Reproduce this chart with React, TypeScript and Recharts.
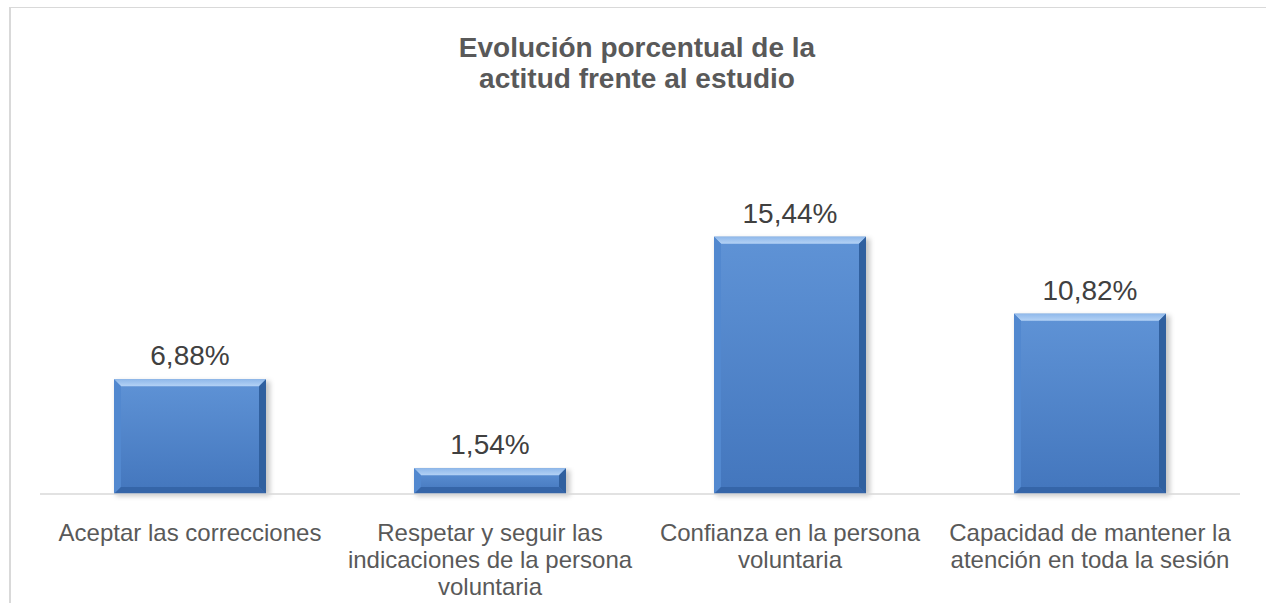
import React from 'react';
import { BarChart, Bar, XAxis, YAxis, LabelList } from 'recharts';

const categories = [
  'Aceptar las correcciones',
  'Respetar y seguir las indicaciones de la persona voluntaria',
  'Confianza en la persona voluntaria',
  'Capacidad de mantener la atención en toda la sesión',
];
const labelLines = [
  ['Aceptar las correcciones'],
  ['Respetar y seguir las', 'indicaciones de la persona', 'voluntaria'],
  ['Confianza en la persona', 'voluntaria'],
  ['Capacidad de mantener la', 'atención en toda la sesión'],
];
const values = [6.88, 1.54, 15.44, 10.82];

const data = categories.map((c, i) => ({ name: c, value: values[i], idx: i }));

const FONT = '"Liberation Sans", Arial, sans-serif';

function BevelBar(props: any) {
  const { x, y, width: w, height: h, index } = props;
  const b = Math.min(7, h / 3);
  const id = `bar${index}`;
  return (
    <g>
      <defs>
        <linearGradient id={`${id}-main`} x1="0" y1="0" x2="0" y2="1">
          <stop offset="0%" stopColor="#5f93d6" />
          <stop offset="100%" stopColor="#4376bd" />
        </linearGradient>
        <linearGradient id={`${id}-top`} x1="0" y1="0" x2="0" y2="1">
          <stop offset="0%" stopColor="#8fb8ea" />
          <stop offset="100%" stopColor="#b4d2f5" />
        </linearGradient>
        <filter id={`${id}-sh`} x="-10%" y="-10%" width="130%" height="130%">
          <feGaussianBlur stdDeviation="2.5" />
        </filter>
      </defs>
      <rect x={x + 2} y={y + 2} width={w + 2} height={h} fill="rgba(0,0,0,0.22)" filter={`url(#${id}-sh)`} />
      <rect x={x} y={y} width={w} height={h} fill={`url(#${id}-main)`} />
      <polygon points={`${x},${y} ${x + w},${y} ${x + w - b},${y + b} ${x + b},${y + b}`} fill={`url(#${id}-top)`} />
      <polygon points={`${x},${y} ${x + b},${y + b} ${x + b},${y + h - b} ${x},${y + h}`} fill="#5288cf" />
      <polygon points={`${x + w},${y} ${x + w},${y + h} ${x + w - b},${y + h - b} ${x + w - b},${y + b}`} fill="#30609f" />
      <polygon points={`${x},${y + h} ${x + b},${y + h - b} ${x + w - b},${y + h - b} ${x + w},${y + h}`} fill="#3565a8" />
    </g>
  );
}

function CategoryTick(props: any) {
  const { x, y, payload } = props;
  const lines = labelLines[payload.index] || [payload.value];
  return (
    <g>
      {lines.map((l: string, i: number) => (
        <text key={i} x={x} y={y + 39 + i * 27} textAnchor="middle" fill="#595959" fontSize={24} fontFamily={FONT}>
          {l}
        </text>
      ))}
    </g>
  );
}

function ValueLabel(props: any) {
  const { x, y, width, value } = props;
  return (
    <text x={x + width / 2} y={y - 14} textAnchor="middle" fill="#404040" fontSize={28} fontFamily={FONT}>
      {value.toFixed(2).replace('.', ',')}%
    </text>
  );
}

export default function App() {
  return (
    <div style={{ position: 'absolute', left: 0, top: 0, width: 1266, height: 603, overflow: 'hidden', background: '#fff', fontFamily: FONT }}>
      <div style={{ position: 'absolute', left: 9, top: 7, width: 1400, height: 800, borderTop: '1px solid #d9d9d9', borderLeft: '2px solid #d9d9d9' }} />
      <div style={{ position: 'absolute', left: 337, top: 32, width: 600, textAlign: 'center', color: '#595959', fontWeight: 'bold', fontSize: 28, lineHeight: '31px' }}>
        Evolución porcentual de la
        <br />
        actitud frente al estudio
      </div>
      <div style={{ position: 'absolute', left: 0, top: 0 }}>
        <BarChart width={1266} height={603} data={data} margin={{ top: 194, right: 26, bottom: 0, left: 40 }} barSize={152}>
          <XAxis
            dataKey="name"
            axisLine={{ stroke: '#d9d9d9', strokeWidth: 1.5 }}
            tickLine={false}
            tick={<CategoryTick />}
            height={109}
            interval={0}
          />
          <YAxis hide domain={[0, 18]} />
          <Bar dataKey="value" shape={<BevelBar />} isAnimationActive={false}>
            <LabelList dataKey="value" content={<ValueLabel />} />
          </Bar>
        </BarChart>
      </div>
    </div>
  );
}
